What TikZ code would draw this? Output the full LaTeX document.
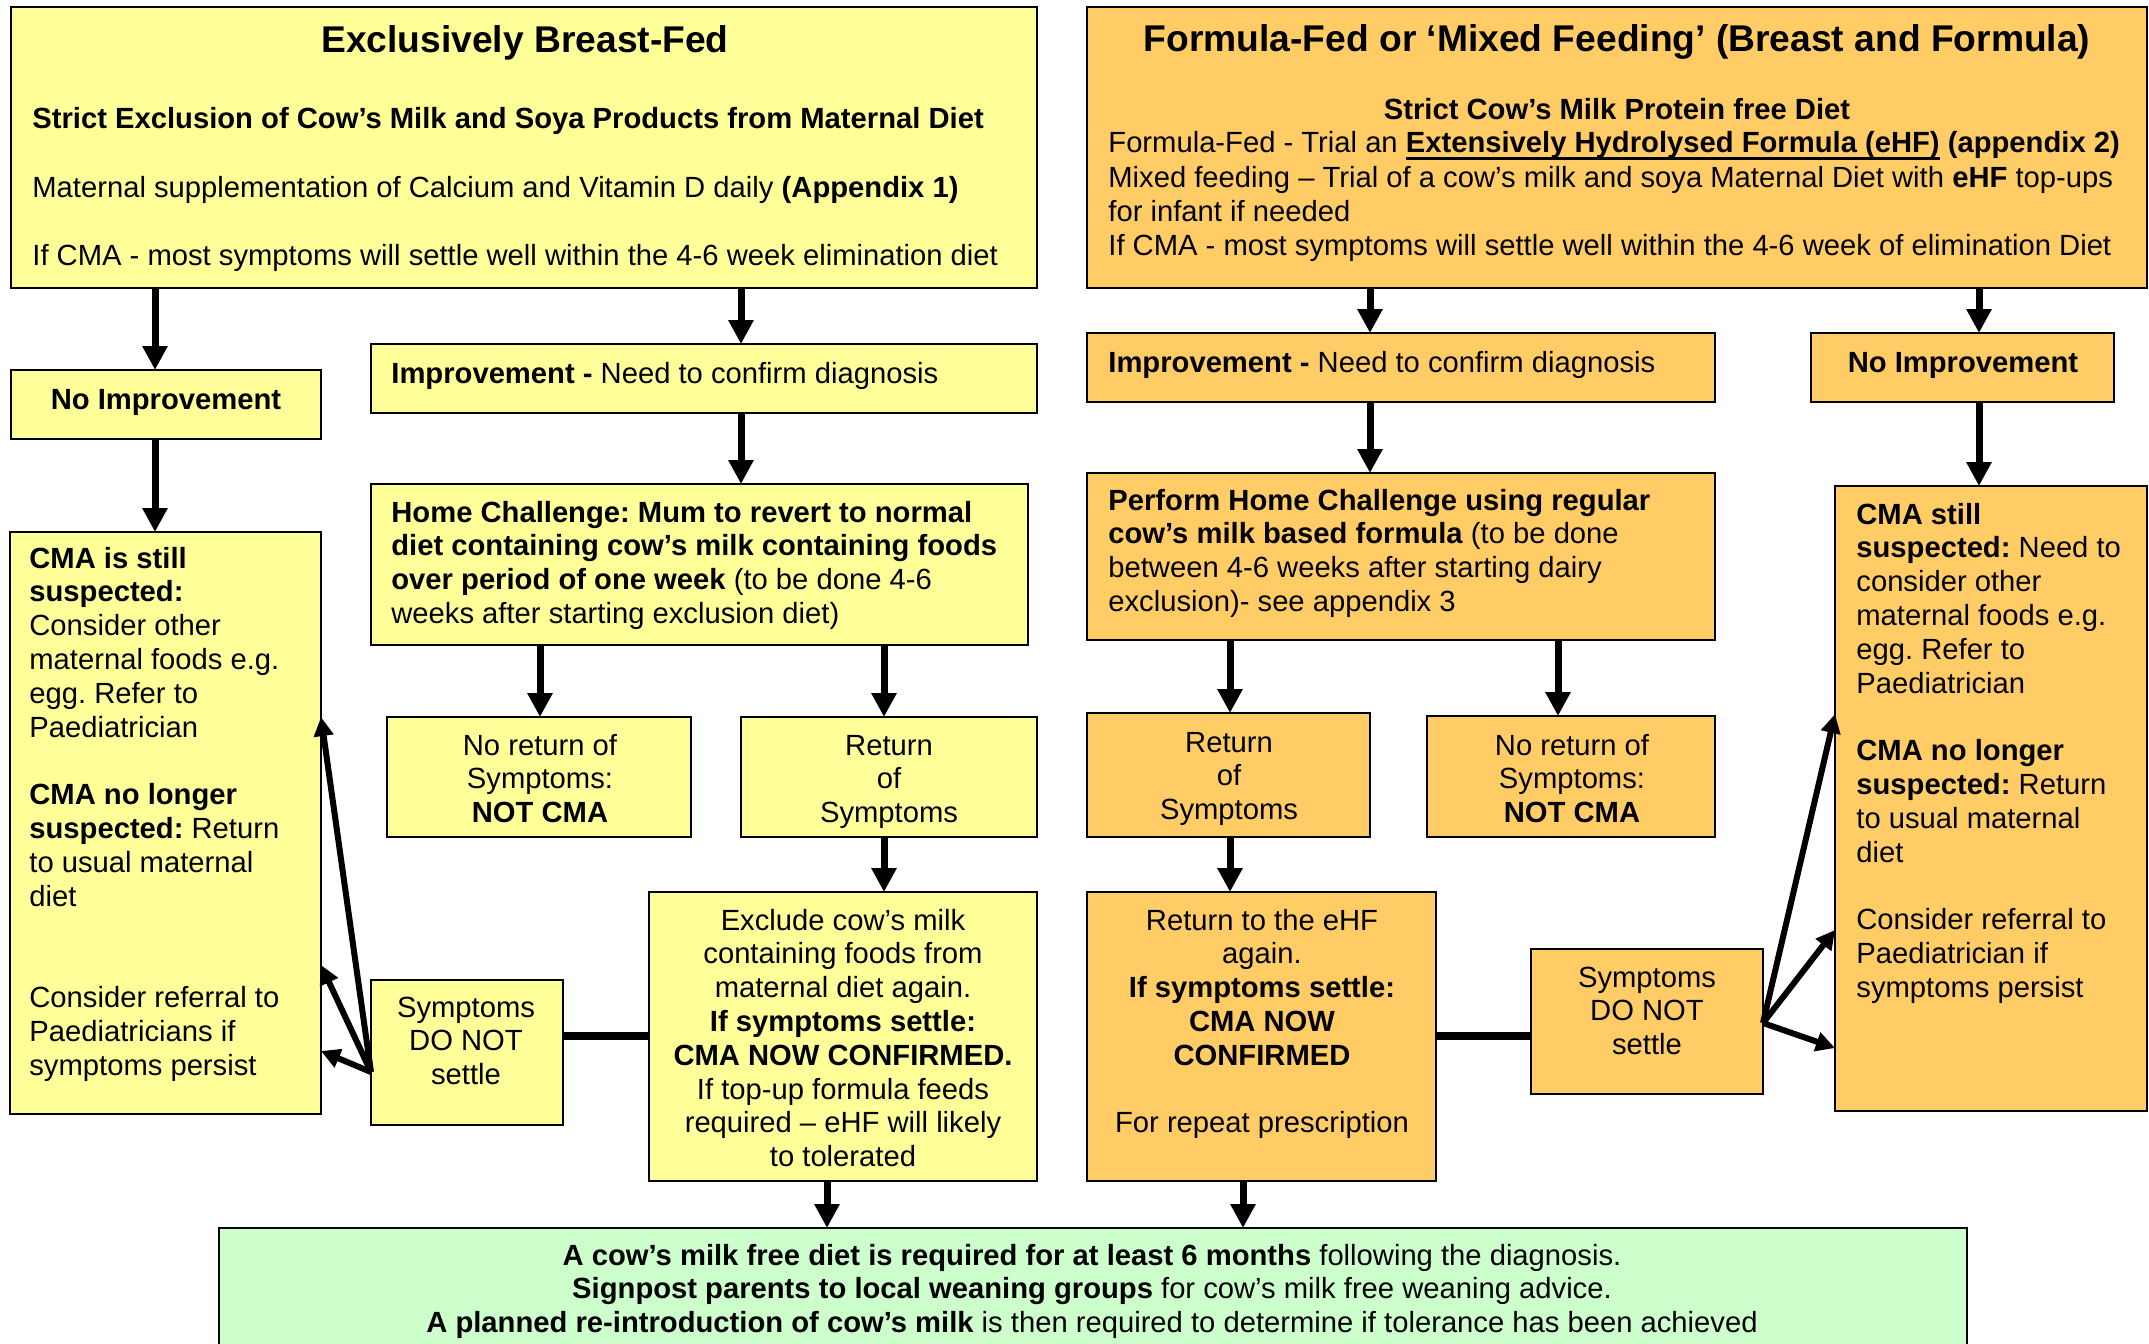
\documentclass[tikz,border=0pt]{standalone}
\usepackage{fontspec}
\setmainfont{Liberation Sans}
\usetikzlibrary{arrows.meta,calc}
\definecolor{byel}{HTML}{FFFF99}
\definecolor{borg}{HTML}{FFCC66}
\definecolor{bgrn}{HTML}{CCFFCC}
\frenchspacing
\newcommand\bodyf{\fontsize{14.6}{16.9}\selectfont}
\newcommand\ttlf{\fontsize{18.6}{22}\selectfont\bfseries}
\newcommand\myul[1]{\setbox0\hbox{#1}\rlap{\rule[-3.8pt]{\wd0}{1.4pt}}\box0}
\newcommand\mkbox[6]{\node[#6, minimum width={(#3-#1)*0.5pt}, minimum height={(#4-#2)*0.5pt}] (#5) at ({(#1+#3)/2},{(#2+#4)/2}) {};}
\tikzset{
 bx/.style={draw=black, line width=1pt, inner sep=0pt, outer sep=0pt},
 yb/.style={bx, fill=byel}, ob/.style={bx, fill=borg}, gb/.style={bx, fill=bgrn},
 arr/.style={line width=3.5pt, -{Triangle[length=12pt,width=12pt]}},
 darr/.style={line width=3pt, line join=miter, -{Triangle[length=9.5pt,width=9.5pt]}},
 thk/.style={line width=4pt},
 tl/.style={inner sep=0pt, font=\bodyf\frenchspacing, align=left, anchor=north west},
 tcn/.style={inner sep=0pt, font=\bodyf\frenchspacing, align=center, anchor=north},
 sl/.style={inner sep=0pt, font=\bodyf\frenchspacing, anchor=base west},
 sc/.style={inner sep=0pt, font=\bodyf\frenchspacing, anchor=base},
}
\begin{document}
\begin{tikzpicture}[x=0.5pt,y=-0.5pt]
\fill[white] (0,0) rectangle (2149,1344);
\useasboundingbox (0,0) rectangle (2149,1344);
\begin{scope}
\clip (0,0) rectangle (2149,1344);
% boxes
\mkbox{11}{7}{1037}{288}{A}{yb}
\mkbox{1087}{7}{2147}{288}{B}{ob}
\mkbox{11}{370}{321}{439}{noimpL}{yb}
\mkbox{371}{344}{1037}{413}{impL}{yb}
\mkbox{10}{532}{321}{1114}{cmaL}{yb}
\mkbox{371}{484}{1028}{645}{homeL}{yb}
\mkbox{387}{717}{691}{837}{noretL}{yb}
\mkbox{741}{717}{1037}{837}{retL}{yb}
\mkbox{371}{980}{563}{1125}{symL}{yb}
\mkbox{649}{892}{1037}{1181}{exclL}{yb}
\mkbox{1087}{333}{1715}{402}{impR}{ob}
\mkbox{1811}{333}{2114}{402}{noimpR}{ob}
\mkbox{1087}{473}{1715}{640}{homeR}{ob}
\mkbox{1087}{713}{1370}{837}{retR}{ob}
\mkbox{1427}{716}{1715}{837}{noretR}{ob}
\mkbox{1835}{486}{2147}{1111}{cmaR}{ob}
\mkbox{1087}{892}{1436}{1181}{ehfR}{ob}
\mkbox{1531}{949}{1763}{1094}{symR}{ob}
\mkbox{219}{1228}{1967}{1400}{grn}{gb}
% texts
\node[sc, font=\ttlf] (tA0) at (525,52) {Exclusively Breast-Fed};
\node[sl, font=\bodyf\bfseries] (tA1) at (32,128) {Strict Exclusion of Cow’s Milk and Soya Products from Maternal Diet};
\node[sl] (tA2) at (32,197) {Maternal supplementation of Calcium and Vitamin D daily \textbf{(Appendix 1)}};
\node[sl] (tA3) at (32,265) {If CMA - most symptoms will settle well within the 4-6 week elimination diet};
\node[sc, font=\ttlf] (tB0) at (1617,51) {Formula-Fed or ‘Mixed Feeding’ (Breast and Formula)};
\node[sc, font=\bodyf\bfseries] (tB1) at (1617,119) {Strict Cow’s Milk Protein free Diet};
\node[sl] (tB2) at (1108,152) {Formula-Fed - Trial an \textbf{\myul{Extensively Hydrolysed Formula (eHF)}} \textbf{(appendix 2)}};
\node[sl] (tB3) at (1108,187) {Mixed feeding – Trial of a cow’s milk and soya Maternal Diet with \textbf{eHF} top-ups};
\node[sl] (tB4) at (1108,221) {for infant if needed};
\node[sl] (tB5) at (1108,255) {If CMA - most symptoms will settle well within the 4-6 week of elimination Diet};
\node[sc, font=\bodyf\bfseries] (tNIL) at (166,409) {No Improvement};
\node[sl] (tIL) at (391,383) {\textbf{Improvement -} Need to confirm diagnosis};
\node[tl] (tCL) at (29,544) {\strut\textbf{CMA is still}\\ \textbf{suspected:}\\ Consider other\\ maternal foods e.g.\\ egg. Refer to\\ Paediatrician\\[16.9pt] \textbf{CMA no longer}\\ \textbf{suspected:} Return\\ to usual maternal\\ diet\\[33.8pt] Consider referral to\\ Paediatricians if\\ symptoms persist};
\node[tl] (tHL) at (391,498) {\strut\textbf{Home Challenge: Mum to revert to normal}\\ \textbf{diet containing cow’s milk containing foods}\\ \textbf{over period of one week} (to be done 4-6\\ weeks after starting exclusion diet)};
\node[tcn] (tNRL) at (540,731) {\strut No return of\\ Symptoms:\\ \textbf{NOT CMA}};
\node[tcn] (tRL) at (889,731) {\strut Return\\ of\\ Symptoms};
\node[tcn] (tSL) at (466,993) {\strut Symptoms\\ DO NOT\\ settle};
\node[tcn] (tEL) at (843,906) {\strut Exclude cow’s milk\\ containing foods from\\ maternal diet again.\\ \textbf{If symptoms settle:}\\ \textbf{CMA NOW CONFIRMED.}\\ If top-up formula feeds\\ required – eHF will likely\\ to tolerated};
\node[sl] (tIR) at (1108,372) {\textbf{Improvement -} Need to confirm diagnosis};
\node[sc, font=\bodyf\bfseries] (tNIR) at (1963,372) {No Improvement};
\node[tl] (tHR) at (1108,486) {\strut\textbf{Perform Home Challenge using regular}\\ \textbf{cow’s milk based formula} (to be done\\ between 4-6 weeks after starting dairy\\ exclusion)- see appendix 3};
\node[tcn] (tRR) at (1229,728) {\strut Return\\ of\\ Symptoms};
\node[tcn] (tNRR) at (1572,731) {\strut No return of\\ Symptoms:\\ \textbf{NOT CMA}};
\node[tl] (tCR) at (1856,500) {\strut\textbf{CMA still}\\ \textbf{suspected:} Need to\\ consider other\\ maternal foods e.g.\\ egg. Refer to\\ Paediatrician\\[16.9pt] \textbf{CMA no longer}\\ \textbf{suspected:} Return\\ to usual maternal\\ diet\\[16.9pt] Consider referral to\\ Paediatrician if\\ symptoms persist};
\node[tcn] (tER) at (1262,906) {\strut Return to the eHF\\ again.\\ \textbf{If symptoms settle:}\\ \textbf{CMA NOW}\\ \textbf{CONFIRMED}\\[16.9pt] For repeat prescription};
\node[tcn] (tSR) at (1647,963) {\strut Symptoms\\ DO NOT\\ settle};
\node[tcn] (tG) at (1092,1241) {\strut\textbf{A cow’s milk free diet is required for at least 6 months} following the diagnosis.\\ \textbf{Signpost parents to local weaning groups} for cow’s milk free weaning advice.\\ \textbf{A planned re-introduction of cow’s milk} is then required to determine if tolerance has been achieved};
% connector helper coordinates
\coordinate (xa) at (155,0);
\coordinate (xb) at (741,0);
\coordinate (xc) at (540,0);
\coordinate (xd) at (884,0);
\coordinate (xe) at (827,0);
\coordinate (xf) at (1370,0);
\coordinate (xg) at (1979,0);
\coordinate (xh) at (1230,0);
\coordinate (xi) at (1558,0);
\coordinate (xj) at (1243,0);
\coordinate (yt) at (0,1036);
\coordinate (yoL) at (0,1072);
\coordinate (yoR) at (0,1023);
\coordinate (yl1) at (0,717);
\coordinate (yl2) at (0,965);
\coordinate (yl3) at (0,1051);
\coordinate (yr1) at (0,714);
\coordinate (yr2) at (0,930);
\coordinate (yr3) at (0,1048);
% arrows left
\draw[arr] (A.south -| xa) -- (noimpL.north -| xa);
\draw[arr] (noimpL.south -| xa) -- (cmaL.north -| xa);
\draw[arr] (A.south -| xb) -- (impL.north -| xb);
\draw[arr] (impL.south -| xb) -- (homeL.north -| xb);
\draw[arr] (homeL.south -| xc) -- (noretL.north -| xc);
\draw[arr] (homeL.south -| xd) -- (retL.north -| xd);
\draw[arr] (retL.south -| xd) -- (exclL.north -| xd);
\draw[arr] (exclL.south -| xe) -- (grn.north -| xe);
% arrows right
\draw[arr] (B.south -| xf) -- (impR.north -| xf);
\draw[arr] (impR.south -| xf) -- (homeR.north -| xf);
\draw[arr] (B.south -| xg) -- (noimpR.north -| xg);
\draw[arr] (noimpR.south -| xg) -- (cmaR.north -| xg);
\draw[arr] (homeR.south -| xh) -- (retR.north -| xh);
\draw[arr] (retR.south -| xh) -- (ehfR.north -| xh);
\draw[arr] (homeR.south -| xi) -- (noretR.north -| xi);
\draw[arr] (ehfR.south -| xj) -- (grn.north -| xj);
% thick links
\draw[thk] (symL.east |- yt) -- (exclL.west |- yt);
\draw[thk] (ehfR.east |- yt) -- (symR.west |- yt);
% diagonal arrows
\draw[darr] (symL.west |- yoL) -- (cmaL.east |- yl1);
\draw[darr] (symL.west |- yoL) -- (cmaL.east |- yl2);
\draw[darr] (symL.west |- yoL) -- (cmaL.east |- yl3);
\draw[darr] (symR.east |- yoR) -- (cmaR.west |- yr1);
\draw[darr] (symR.east |- yoR) -- (cmaR.west |- yr2);
\draw[darr] (symR.east |- yoR) -- (cmaR.west |- yr3);
\end{scope}
\end{tikzpicture}
\end{document}
